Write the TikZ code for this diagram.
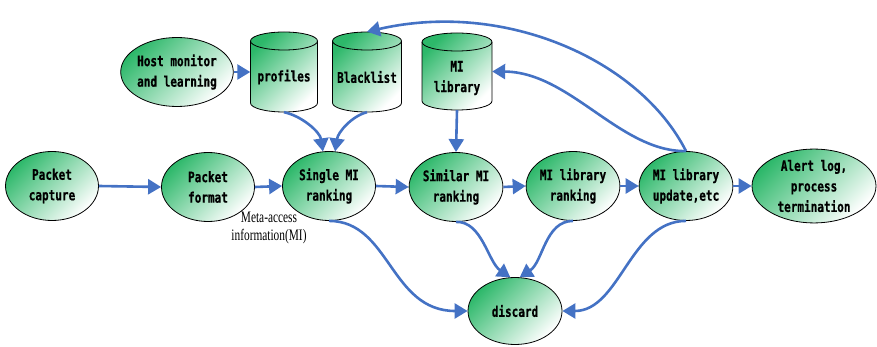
\documentclass[tikz,border=0pt]{standalone}
\usepackage{fontspec}
\usetikzlibrary{shapes.geometric,arrows.meta}
\newfontfamily\nodefont[FakeStretch=0.76,FakeBold=0.6]{DejaVu Sans Mono Bold}
\newfontfamily\labfont[FakeStretch=0.71]{Liberation Serif}
\definecolor{gr}{HTML}{2DB86A}
\definecolor{bl}{HTML}{4472C4}
\tikzset{
  gshade/.style={draw=black, line width=0.8pt, shading=axis, top color=gr, middle color=gr!30!white, bottom color=white, shading angle=45},
  ell/.style={gshade, ellipse, inner sep=0pt, minimum width=93pt, minimum height=69pt},
  txt/.style={font=\nodefont\fontsize{14.5}{20.5}\selectfont, align=center},
  edge/.style={draw=bl, line width=2.6pt, -{Triangle[length=13pt,width=15pt]}},
}
% cylinder: centre x, centre y, width, height
\newcommand\drawcylshape[4]{%
  \path[gshade] ({#1-#3/2},{#2-#4/2+9}) -- ({#1-#3/2},{#2+#4/2-9})
    arc[start angle=180, end angle=0, x radius={#3/2}, y radius=9]
    -- ({#1+#3/2},{#2-#4/2+9})
    arc[start angle=360, end angle=180, x radius={#3/2}, y radius=9] -- cycle;
  \draw[line width=0.8pt] ({#1-#3/2},{#2-#4/2+9})
    arc[start angle=180, end angle=0, x radius={#3/2}, y radius=9];
}
\begin{document}
\begin{tikzpicture}[x=1pt,y=-1pt]
\useasboundingbox (0,0) rectangle (877,347);
% ellipses
\node[ell,txt] (cap) at (52,186) {Packet\\capture};
\node[ell,txt] (fmt) at (208,187) {Packet\\format};
\node[ell,txt] (single) at (329,186) {Single MI\\ranking};
\node[ell,txt] (similar) at (456,187) {Similar MI\\ranking};
\node[ell,txt] (mlr) at (573,186) {MI library\\ranking};
\node[ell,txt] (upd) at (686,186) {MI library\\update,etc};
\node[ell,txt, minimum width=124pt, minimum height=72pt] (alert) at (814,186) {Alert log,\\process\\termination};
\node[ell,txt, minimum width=94pt, minimum height=67pt] (discard) at (515,311) {discard};
\node[ell,txt, minimum width=106pt] (host) at (177,72) {Host monitor\\and learning};
% cylinders
\drawcylshape{284}{72}{67}{80}
\node[inner sep=0pt, minimum width=67pt, minimum height=80pt] (prof) at (284,72) {};
\node[txt] (proft) at (284,77) {profiles};
\drawcylshape{367}{72}{69}{80}
\node[inner sep=0pt, minimum width=69pt, minimum height=80pt] (black) at (367,72) {};
\node[txt] (blackt) at (367,77) {Blacklist};
\drawcylshape{457}{71.5}{70}{77}
\node[inner sep=0pt, minimum width=70pt, minimum height=77pt] (mil) at (457,71.5) {};
\node[txt] (milt) at (457,78) {MI\\library};
% label
\node[font=\labfont\fontsize{16}{18}\selectfont, align=center] (meta) at (269,228) {Meta-access\\information(MI)};
% straight edges
\draw[edge] (cap.east) -- (fmt.west);
\draw[edge] (fmt.east) -- (single.west);
\draw[edge] (single.east) -- (similar.west);
\draw[edge] (similar.east) -- (mlr.west);
\draw[edge] (mlr.east) -- (upd.west);
\draw[edge] (upd.east) -- (alert.west);
\draw[edge] (host.east) -- (prof.west |- host.east);
\draw[edge] (mil.south) -- (similar.north);
% curved edges
\draw[edge] (prof.south) .. controls (302,116) and (320,132) .. (single.100);
\draw[edge] (black.south) .. controls (352,116) and (338,132) .. (single.80);
\draw[edge] (upd.north) .. controls (620,152) and (570,72) .. (mil.east);
\draw[edge] (upd.north) .. controls (640,60) and (505,0) .. (black.north);
\draw[edge] (single.south) .. controls (390,221) and (390,311) .. (discard.west);
\draw[edge] (similar.south) .. controls (482,221) and (488,262) .. (discard.98);
\draw[edge] (mlr.south) .. controls (545,221) and (543,262) .. (discard.82);
\draw[edge] (upd.south) .. controls (630,221) and (620,311) .. (discard.east);
\end{tikzpicture}
\end{document}
